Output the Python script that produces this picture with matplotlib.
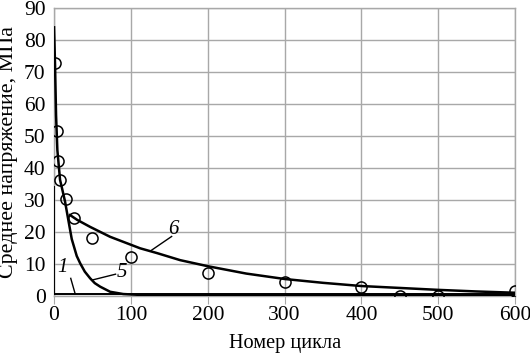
import matplotlib
matplotlib.use("Agg")
import matplotlib.pyplot as plt

plt.rcParams["font.family"] = ["Liberation Serif", "DejaVu Serif"]

# Curve 5 (fast decay)
c5_x = [0, 1.3, 2.6, 4.3, 7.8, 11, 14.3, 18.6, 23, 29.5, 34, 40, 47, 53, 60, 73, 90, 110, 130, 600]
c5_y = [84, 72, 56.5, 45.6, 36.3, 33, 29.5, 23.7, 17.8, 12.5, 10.2, 7.6, 5.5, 4.0, 2.9, 1.3, 0.6, 0.35, 0.3, 0.3]

# Curve 6 (slow decay)
c6_x = [20.8, 30, 46.9, 72.9, 112, 134, 164, 200, 250, 300, 350, 400, 450, 500, 550, 600]
c6_y = [25.3, 23.8, 21.6, 18.5, 14.9, 13.4, 11.2, 9.3, 7.0, 5.3, 4.1, 3.1, 2.5, 1.9, 1.4, 1.0]

# Curve 1 (instant drop)
c1_x = [-0.6, -0.6, 1, 600]
c1_y = [34, 0.5, 0.5, 0.5]

# Experimental points
pts_x = [1.3, 3.5, 5.6, 7.8, 15, 26, 50, 100, 200, 300, 400, 450, 500, 600]
pts_y = [72.7, 51.6, 42.3, 36.3, 30.3, 24.3, 18.2, 12.2, 7.3, 4.5, 2.9, 0.1, 0.1, 1.6]

fig = plt.figure(figsize=(5.3, 3.54), dpi=100)
ax = fig.add_axes([0.102, 0.164, 0.870, 0.813])

ax.plot(c1_x, c1_y, color="black", linewidth=1.4, zorder=3)
ax.plot(c5_x, c5_y, color="black", linewidth=1.8, zorder=3)
ax.plot(c6_x, c6_y, color="black", linewidth=1.8, zorder=3)
ax.plot(pts_x, pts_y, "o", markersize=8, markerfacecolor="none",
        markeredgecolor="black", markeredgewidth=1.1, zorder=4)

# curve labels with leader lines
ax.text(155, 20.8, "6", fontsize=15, style="italic", ha="center", va="center")
ax.plot([153, 125], [18.6, 14.0], color="black", linewidth=1.0)
ax.text(88, 7.2, "5", fontsize=15, style="italic", ha="center", va="center")
ax.plot([80, 50], [6.8, 5.0], color="black", linewidth=1.0)
ax.text(11, 9.0, "1", fontsize=15, style="italic", ha="center", va="center")
ax.plot([21.7, 27.3], [5.5, 0.8], color="black", linewidth=1.0)

ax.set_xlim(0, 600)
ax.set_ylim(0, 90)
ax.set_xticks(range(0, 601, 100))
ax.set_yticks(range(0, 91, 10))
ax.grid(True, color="#a8a8a8", linewidth=1.0)
for s in ax.spines.values():
    s.set_color("#a8a8a8")
    s.set_linewidth(1.0)
ax.tick_params(axis="x", labelsize=15.5, length=6, color="#a8a8a8", pad=1)
ax.tick_params(axis="y", labelsize=15.5, length=0, pad=6)

ax.set_xlabel("Номер цикла", fontsize=14.6, labelpad=7)
ax.set_ylabel("Среднее напряжение, МПа", fontsize=15.8, labelpad=4)

fig.savefig("out.png", dpi=100)
